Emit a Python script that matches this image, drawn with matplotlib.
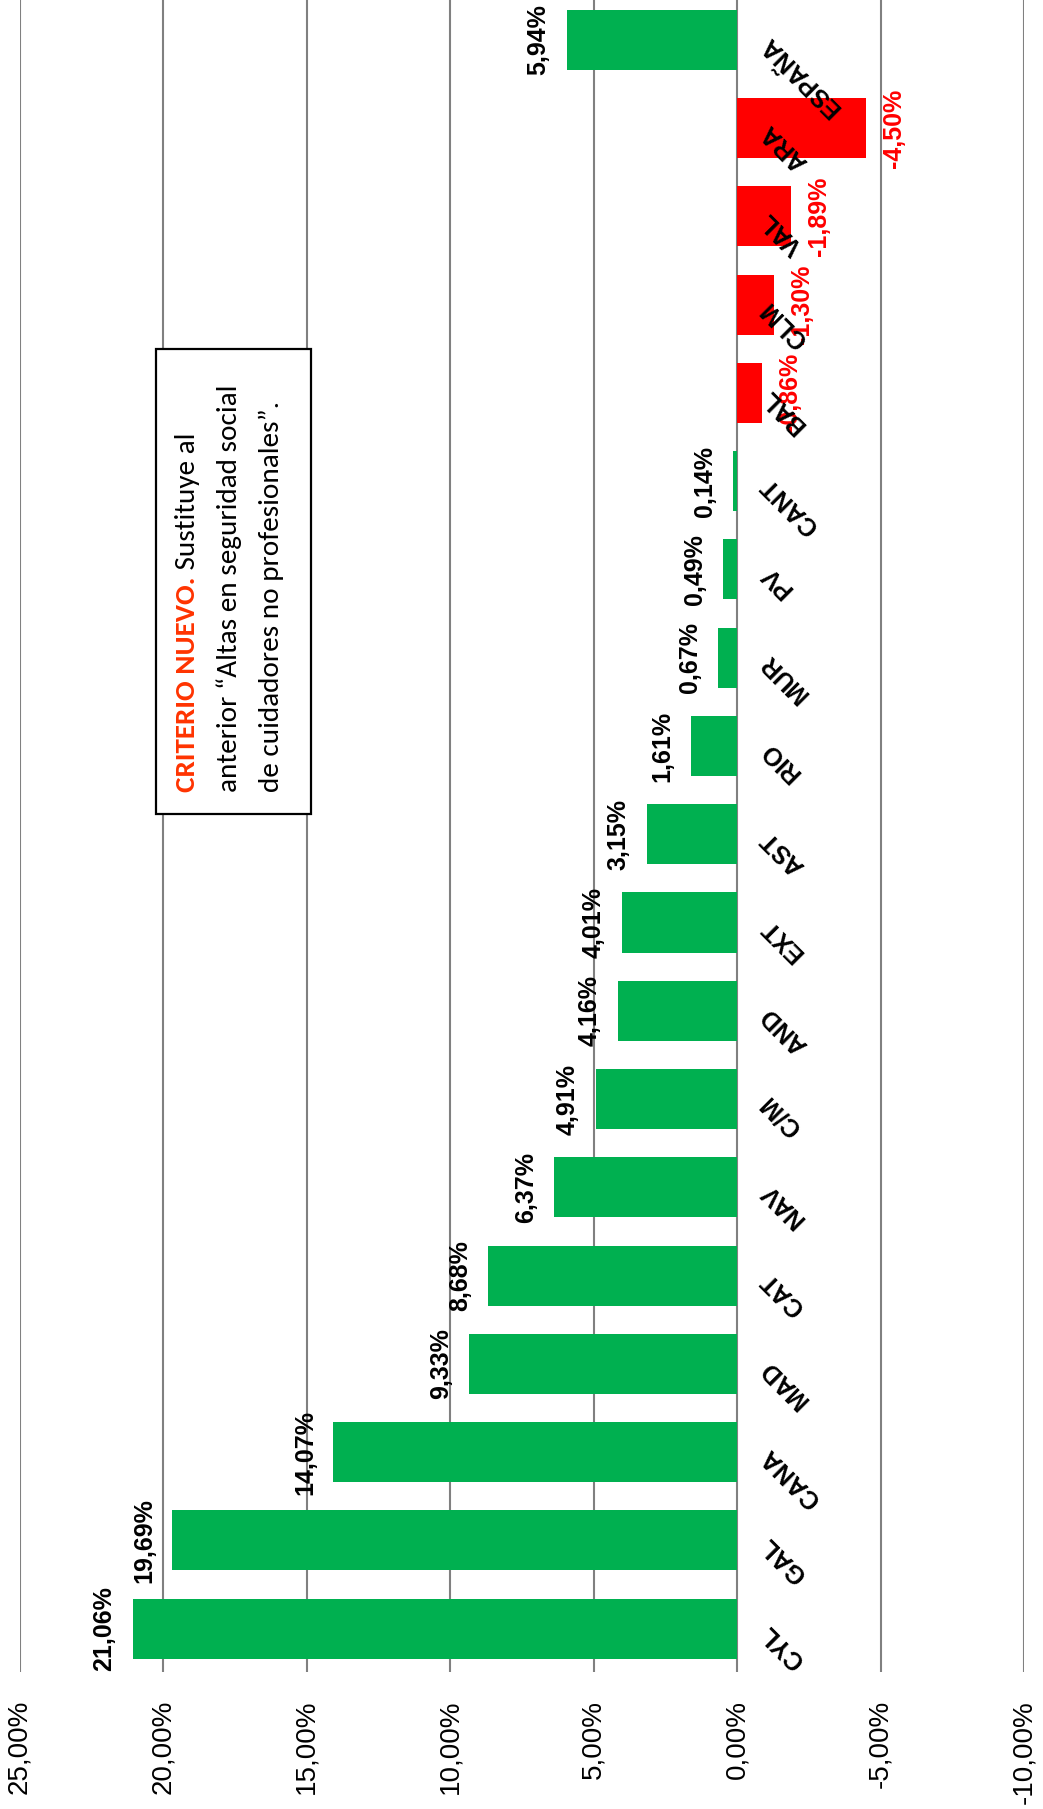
import matplotlib
matplotlib.use("Agg")
import matplotlib.pyplot as plt
from matplotlib.patches import Rectangle
from matplotlib import font_manager as fm

# ---- data ----
categories = ["CYL", "GAL", "CANA", "MAD", "CAT", "NAV", "C/M", "AND", "EXT", "AST",
              "RIO", "MUR", "PV", "CANT", "BAL", "CLM", "VAL", "ARA", "ESPAÑA"]
values = [21.06, 19.69, 14.07, 9.33, 8.68, 6.37, 4.91, 4.16, 4.01, 3.15,
          1.61, 0.67, 0.49, 0.14, -0.86, -1.30, -1.89, -4.50, 5.94]
tick_values = [25, 20, 15, 10, 5, 0, -5, -10]
tick_labels = ["25,00%", "20,00%", "15,00%", "10,00%", "5,00%", "0,00%", "-5,00%", "-10,00%"]
note_title = "CRITERIO NUEVO."
note_lines = [" Sustituye al",
              "anterior \u201cAltas en seguridad social",
              "de cuidadores no profesionales\u201d."]

W, H = 1043, 1809
GREEN = "#00B050"
RED = "#FF0000"


def find_font(fname_key, fallback_family, weight):
    for f in fm.fontManager.ttflist:
        if f.fname.split("/")[-1].lower() == fname_key.lower():
            return fm.FontProperties(fname=f.fname)
    return fm.FontProperties(family=fallback_family, weight=weight)


REG = find_font("LiberationSans-Regular.ttf", "DejaVu Sans", "normal")
BOLD = find_font("LiberationSans-Bold.ttf", "DejaVu Sans", "bold")
NOTE_REG = find_font("Carlito-Regular.ttf", "Lato", "normal")
NOTE_BOLD = find_font("Carlito-Bold.ttf", "Lato", "bold")


def fp(base, size):
    p = base.copy()
    p.set_size(size)
    return p


fig = plt.figure(figsize=(W / 100, H / 100), dpi=100)
fig.patch.set_facecolor("white")
ax = fig.add_axes([19.5 / W, 1 - 1672 / H, 1004.5 / W, 1672 / H])

ypos = list(range(len(categories)))
colors = [GREEN if v >= 0 else RED for v in values]
ax.barh(ypos, values, height=0.68, color=colors, zorder=2)

ax.set_xlim(25, -10)
ax.set_ylim(-0.49, 18.45)
ax.set_xticks(tick_values)
ax.set_xticklabels(tick_labels, rotation=90, fontproperties=fp(REG, 20))
ax.tick_params(axis="x", length=0, pad=20)
ax.set_yticks([])
for s in ax.spines.values():
    s.set_visible(False)
ax.grid(axis="x", color="#808080", linewidth=1.5, zorder=0)
ax.set_axisbelow(True)

# data labels
for i, v in enumerate(values):
    txt = f"{v:.2f}%".replace(".", ",")
    if v >= 0:
        ax.annotate(txt, xy=(v, i), xytext=(-11.5, 0), textcoords="offset points",
                    ha="right", va="center", rotation=90, fontproperties=fp(BOLD, 18),
                    color="black", zorder=4)
    else:
        ax.annotate(txt, xy=(v, i), xytext=(11.5, 0), textcoords="offset points",
                    ha="left", va="center", rotation=90, fontproperties=fp(BOLD, 18),
                    color=RED, zorder=4)

# category labels
for i, c in enumerate(categories):
    ax.annotate(c, xy=(0, i), xytext=(20, 0), textcoords="offset points",
                ha="right", va="center", rotation=135, rotation_mode="anchor",
                fontproperties=fp(BOLD, 18), color="black", zorder=4)


def P(x, y):
    return (x / W, 1 - y / H)


# note box
x0, y0 = P(156, 814)
x1, y1 = P(311, 349)
fig.patches.append(Rectangle((x0, y0), x1 - x0, y1 - y0, transform=fig.transFigure,
                             facecolor="white", edgecolor="black", linewidth=1.6,
                             zorder=5))

NOTE_SIZE = 21
baselines = [195, 237, 279]
start_y = 792

t_red = fig.text(*P(baselines[0], start_y), note_title, rotation=90,
                 rotation_mode="anchor", ha="left", va="baseline",
                 fontproperties=fp(NOTE_BOLD, NOTE_SIZE), color="#FF3300", zorder=6)
fig.canvas.draw()
bb = t_red.get_window_extent(fig.canvas.get_renderer())
xd = fig.transFigure.transform(P(baselines[0], start_y))[0]
fx, fy = fig.transFigure.inverted().transform((xd, bb.y1))
fig.text(fx, fy, note_lines[0], rotation=90, rotation_mode="anchor", ha="left",
         va="baseline", fontproperties=fp(NOTE_REG, NOTE_SIZE), color="black", zorder=6)
for k in (1, 2):
    fig.text(*P(baselines[k], start_y), note_lines[k], rotation=90,
             rotation_mode="anchor", ha="left", va="baseline",
             fontproperties=fp(NOTE_REG, NOTE_SIZE), color="black", zorder=6)

fig.savefig("out.png", dpi=100, facecolor="white")
